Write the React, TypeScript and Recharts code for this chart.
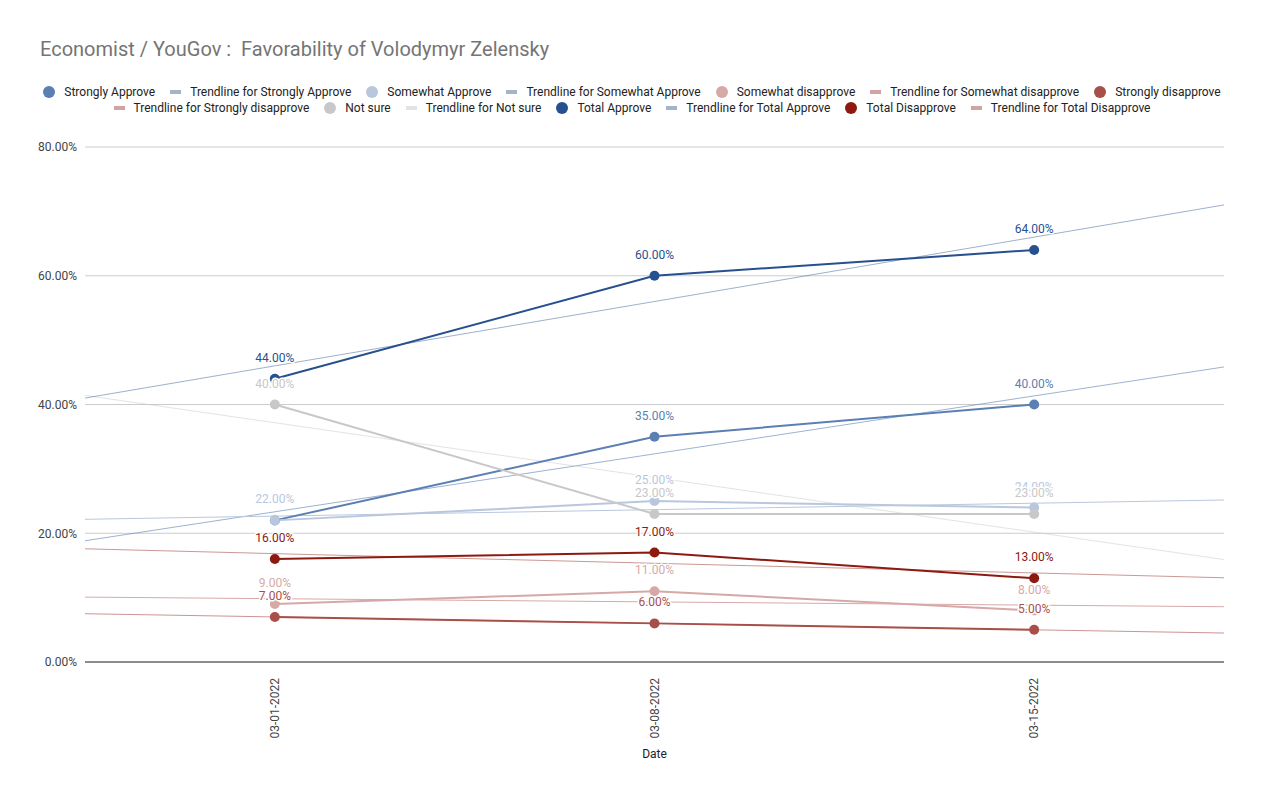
import React from 'react';
import { LineChart, Line, XAxis, YAxis, CartesianGrid, LabelList } from 'recharts';

const titleText = 'Economist / YouGov :  Favorability of Volodymyr Zelensky';
const dates = ['03-01-2022', '03-08-2022', '03-15-2022'];
const stronglyApprove = [22, 35, 40];
const somewhatApprove = [22, 25, 24];
const somewhatDisapprove = [9, 11, 8];
const stronglyDisapprove = [7, 6, 5];
const notSure = [40, 23, 23];
const totalApprove = [44, 60, 64];
const totalDisapprove = [16, 17, 13];
const yTicks = [0, 20, 40, 60, 80];

const series = [
  { key: 's0', name: 'Strongly Approve', values: stronglyApprove, color: '#5b7fb3', trendOpacity: 0.6 },
  { key: 's1', name: 'Somewhat Approve', values: somewhatApprove, color: '#b9c7de', trendOpacity: 1 },
  { key: 's2', name: 'Somewhat disapprove', values: somewhatDisapprove, color: '#d6a9a7', trendOpacity: 1 },
  { key: 's3', name: 'Strongly disapprove', values: stronglyDisapprove, color: '#a84f4a', trendOpacity: 0.6 },
  { key: 's4', name: 'Not sure', values: notSure, color: '#c8c8c8', trendOpacity: 0.5 },
  { key: 's5', name: 'Total Approve', values: totalApprove, color: '#27508f', trendOpacity: 0.45 },
  { key: 's6', name: 'Total Disapprove', values: totalDisapprove, color: '#8c1a10', trendOpacity: 0.45 },
];

const legendTrendColor: Record<string, string> = {
  s0: '#a3b5cc', s1: '#a3b5cc', s2: '#d2a3a3', s3: '#d2a3a3', s4: '#e3e3e3', s5: '#a3b5cc', s6: '#d2a3a3',
};

const rows = dates.map((d, i) => {
  const r: Record<string, number | string> = { x: i, date: d };
  series.forEach((s) => { r[s.key] = s.values[i]; });
  return r;
});

// least-squares trendline evaluated at the plot edges
function trend(values: number[]) {
  const n = values.length;
  const mx = (n - 1) / 2;
  const my = values.reduce((a, b) => a + b, 0) / n;
  let num = 0, den = 0;
  values.forEach((v, i) => { num += (i - mx) * (v - my); den += (i - mx) * (i - mx); });
  const slope = num / den;
  const b = my - slope * mx;
  return [-0.5, n - 0.5].map((x) => ({ x, y: b + slope * x }));
}

const fmt = (v: number) => `${Number(v).toFixed(2)}%`;

const XTick = (props: any) => {
  const { x, y, payload } = props;
  const tx = x + 4;
  const ty = y + 8;
  return (
    <text x={tx} y={ty} transform={`rotate(-90, ${tx}, ${ty})`} textAnchor="end" fontSize={12} fill="#444" fontFamily="Roboto">
      {dates[payload.value]}
    </text>
  );
};

const makeLabel = (color: string) => (p: any) => {
  const x = p.x ?? p.viewBox?.x;
  const y = p.y ?? p.viewBox?.y;
  if (x == null || y == null || p.value == null) return null;
  return (
    <text
      x={x}
      y={y - 17}
      textAnchor="middle"
      fontSize={12}
      fontFamily="Roboto"
      fill={color}
      stroke="#fff"
      strokeWidth={3}
      strokeLinejoin="round"
      style={{ paintOrder: 'stroke' }}
    >
      {fmt(p.value)}
    </text>
  );
};

const legendItems = series.flatMap((s) => [
  { label: s.name, color: s.color, kind: 'dot' },
  { label: `Trendline for ${s.name}`, color: legendTrendColor[s.key], kind: 'trend' },
]);
const legendRows = [legendItems.slice(0, 7), legendItems.slice(7)];

export default function App() {
  return (
    <div style={{ position: 'absolute', left: 0, top: 0, width: 1264, height: 799, background: '#fff', fontFamily: 'Roboto' }}>
      <div style={{ position: 'absolute', left: 40, top: 38, fontSize: 20, lineHeight: '22px', color: '#757575', whiteSpace: 'pre' }}>
        {titleText}
      </div>
      {legendRows.map((row, ri) => (
        <div
          key={ri}
          style={{ position: 'absolute', left: 0, width: 1264, top: 84 + ri * 16, height: 16, display: 'flex', justifyContent: 'center', alignItems: 'center', gap: 15, fontSize: 12, lineHeight: '16px', color: '#222', whiteSpace: 'pre' }}
        >
          {row.map((it, i) => (
            <div key={i} style={{ display: 'flex', alignItems: 'center' }}>
              {it.kind === 'dot' ? (
                <span style={{ display: 'inline-block', width: 12, height: 12, borderRadius: 6, background: it.color, marginRight: 9 }} />
              ) : (
                <span style={{ display: 'inline-block', width: 11, height: 4, background: it.color, marginRight: 9 }} />
              )}
              <span>{it.label}</span>
            </div>
          ))}
        </div>
      ))}
      <div style={{ position: 'absolute', left: 0, top: 0 }}>
        <LineChart width={1264} height={799} data={rows} margin={{ top: 147, right: 40, bottom: 37, left: 25 }}>
          <CartesianGrid vertical={false} stroke="#cccccc" />
          <XAxis
            type="number"
            dataKey="x"
            domain={[-0.5, 2.5]}
            ticks={[0, 1, 2]}
            interval={0}
            tick={<XTick />}
            tickLine={false}
            axisLine={{ stroke: '#333' }}
            height={100}
            label={{ value: 'Date', position: 'insideBottom', offset: 4, fill: '#222', fontSize: 12, fontFamily: 'Roboto' }}
          />
          <YAxis
            domain={[0, 80]}
            ticks={yTicks}
            width={60}
            axisLine={false}
            tickLine={false}
            tickFormatter={fmt}
            tick={{ fill: '#444', fontSize: 12, fontFamily: 'Roboto' }}
          />
          {series.map((s) => (
            <Line
              key={`t-${s.key}`}
              data={trend(s.values)}
              dataKey="y"
              type="linear"
              stroke={s.color}
              strokeOpacity={s.trendOpacity}
              strokeWidth={1}
              dot={false}
              activeDot={false}
              isAnimationActive={false}
            />
          ))}
          {series.map((s) => (
            <Line
              key={s.key}
              dataKey={s.key}
              type="linear"
              stroke={s.color}
              strokeWidth={2}
              dot={{ r: 5, fill: s.color, stroke: 'none' }}
              activeDot={false}
              isAnimationActive={false}
            />
          ))}
          {series.map((s) => (
            <Line
              key={`l-${s.key}`}
              dataKey={s.key}
              stroke="none"
              dot={false}
              activeDot={false}
              isAnimationActive={false}
            >
              <LabelList dataKey={s.key} content={makeLabel(s.color)} />
            </Line>
          ))}
        </LineChart>
      </div>
    </div>
  );
}
